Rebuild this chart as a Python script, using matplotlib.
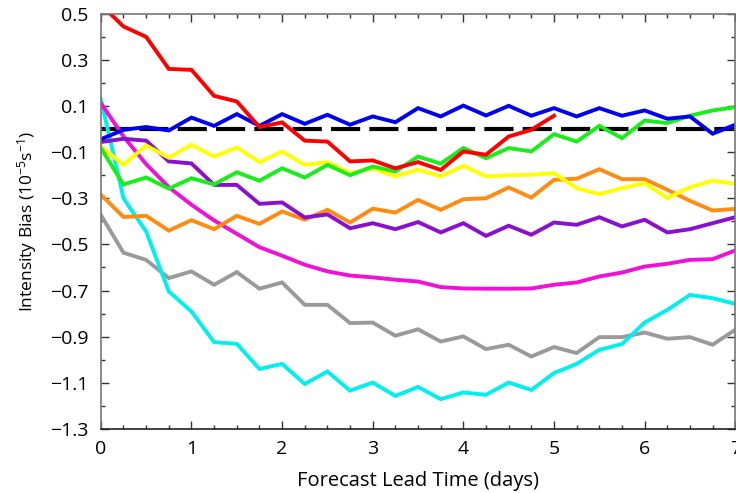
import numpy as np
import matplotlib
matplotlib.use('Agg')
import matplotlib.pyplot as plt
from matplotlib.ticker import MultipleLocator, FixedLocator

plt.rcParams['font.family'] = ['Open Sans', 'DejaVu Sans']
plt.rcParams['mathtext.fontset'] = 'custom'
plt.rcParams['mathtext.rm'] = 'Open Sans'
plt.rcParams['mathtext.it'] = 'Open Sans:italic'
plt.rcParams['mathtext.default'] = 'regular'

# lead time in days, every 6 h
lead = np.arange(29) * 0.25

red = [0.54, 0.445, 0.40, 0.261, 0.257, 0.144, 0.12, 0.009, 0.029, -0.05, -0.054,
       -0.14, -0.136, -0.17, -0.143, -0.177, -0.097, -0.111, -0.032, -0.003, 0.058]
blue = [-0.044, -0.003, 0.009, -0.006, 0.05, 0.014, 0.065, 0.014, 0.065, 0.023,
        0.062, 0.019, 0.055, 0.03, 0.091, 0.055, 0.102, 0.059, 0.101, 0.058, 0.091,
        0.055, 0.091, 0.058, 0.081, 0.045, 0.055, -0.02, 0.019]
green = [-0.082, -0.24, -0.21, -0.258, -0.213, -0.24, -0.187, -0.224, -0.17, -0.21,
         -0.155, -0.2, -0.162, -0.184, -0.119, -0.15, -0.082, -0.126, -0.082, -0.097,
         -0.022, -0.054, 0.014, -0.039, 0.037, 0.026, 0.058, 0.081, 0.095]
yellow = [-0.075, -0.155, -0.071, -0.124, -0.068, -0.119, -0.08, -0.143, -0.097, -0.155,
          -0.143, -0.191, -0.17, -0.205, -0.176, -0.205, -0.159, -0.205, -0.2, -0.198,
          -0.191, -0.256, -0.282, -0.256, -0.234, -0.299, -0.252, -0.224, -0.237]
purple = [-0.056, -0.042, -0.05, -0.14, -0.149, -0.242, -0.242, -0.324, -0.318, -0.383,
          -0.37, -0.43, -0.408, -0.434, -0.403, -0.448, -0.408, -0.463, -0.419, -0.458,
          -0.405, -0.415, -0.382, -0.422, -0.393, -0.448, -0.434, -0.408, -0.382]
orange = [-0.284, -0.381, -0.376, -0.44, -0.395, -0.434, -0.376, -0.411, -0.357, -0.393,
          -0.35, -0.405, -0.345, -0.362, -0.307, -0.35, -0.304, -0.30, -0.253, -0.297,
          -0.22, -0.215, -0.174, -0.217, -0.217, -0.263, -0.311, -0.353, -0.346]
magenta = [0.113, -0.032, -0.152, -0.252, -0.328, -0.396, -0.454, -0.512, -0.549, -0.588,
           -0.617, -0.635, -0.643, -0.653, -0.661, -0.685, -0.691, -0.692, -0.692, -0.691,
           -0.675, -0.665, -0.639, -0.622, -0.596, -0.584, -0.567, -0.564, -0.526]
cyan = [0.13, -0.30, -0.444, -0.704, -0.791, -0.924, -0.931, -1.04, -1.018, -1.105,
        -1.051, -1.134, -1.099, -1.157, -1.118, -1.171, -1.142, -1.152, -1.099, -1.131,
        -1.058, -1.018, -0.957, -0.932, -0.839, -0.784, -0.719, -0.733, -0.758]
gray = [-0.372, -0.536, -0.567, -0.646, -0.617, -0.675, -0.62, -0.692, -0.665, -0.762,
        -0.762, -0.841, -0.839, -0.896, -0.868, -0.921, -0.899, -0.954, -0.935, -0.986,
        -0.945, -0.971, -0.902, -0.902, -0.882, -0.909, -0.902, -0.935, -0.87]

yticks = [0.5, 0.3, 0.1, -0.1, -0.3, -0.5, -0.7, -0.9, -1.1, -1.3]

series = [
    (gray, '#9a9a9a'),
    (cyan, '#00f0f0'),
    (magenta, '#f010d8'),
    (orange, '#ff8c10'),
    (purple, '#8a10d0'),
    (yellow, '#ffff00'),
    (green, '#18ee18'),
    (blue, '#0000f0'),
    (red, '#ff0000'),
]

fig = plt.figure(figsize=(7.36, 4.93), dpi=100)
ax = fig.add_axes([0.137, 0.130, 0.862, 0.842])

ax.plot([0, 7], [0, 0], color='black', lw=3.0, dashes=(7, 2.2), zorder=1)
for vals, col in series:
    ax.plot(lead[:len(vals)], vals, color=col, lw=2.8, solid_joinstyle='miter', zorder=2)

ax.set_xlim(0, 7)
ax.set_ylim(-1.3, 0.5)
ax.xaxis.set_major_locator(MultipleLocator(1))
ax.xaxis.set_minor_locator(MultipleLocator(0.25))
ax.yaxis.set_major_locator(FixedLocator(yticks))
ax.yaxis.set_minor_locator(MultipleLocator(0.1))
ax.set_yticklabels(['%.1f' % v if v >= 0 else '\u2212%.1f' % -v for v in yticks])

ax.tick_params(which='both', direction='in', top=True, right=True, labelsize=14,
               color='#333333')
ax.tick_params(which='major', length=6, width=1)
ax.tick_params(which='minor', length=3, width=1)
ax.tick_params(axis='x', which='major', pad=8)
ax.tick_params(axis='y', which='major', pad=9)
for side in ['left', 'top', 'right']:
    ax.spines[side].set_color('#777777')
    ax.spines[side].set_linewidth(1.2)
ax.spines['bottom'].set_color('#222222')
ax.spines['bottom'].set_linewidth(1.2)

ax.set_xlabel('Forecast Lead Time (days)', fontsize=14.5, labelpad=9)
ax.set_ylabel('Intensity Bias (10$^{-5}$s$^{-1}$)', fontsize=12.5, labelpad=8)

fig.savefig('out.png', dpi=100)
